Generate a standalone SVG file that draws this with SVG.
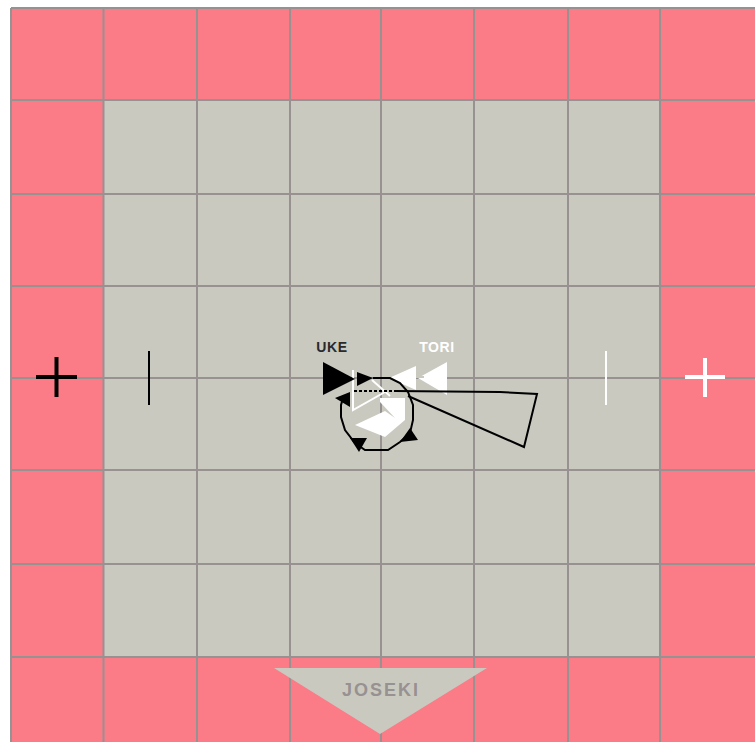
<svg xmlns="http://www.w3.org/2000/svg" width="755" height="742" viewBox="0 0 755 742">
<style>
.grid{stroke:#979191;stroke-width:2;fill:none}
.k{fill:#000;stroke:none}
.w{fill:#fff;stroke:none}
.lab{font-family:"Liberation Sans",Arial,sans-serif;font-weight:700;font-size:14px;text-anchor:middle;letter-spacing:.6px}
</style>
<rect width="755" height="742" fill="#fff"/>
<g id="mat">
<rect x="11" y="8" width="744" height="734" fill="#fb7b87"/>
<rect x="103.500" y="100" width="556.500" height="557" fill="#c9c9c0"/>
<path class="grid" d="M11 8V742M103.500 8V742M197 8V742M290 8V742M381 8V742M474 8V742M568 8V742M660 8V742M11 8H755M11 100H755M11 194H755M11 286H755M11 378H755M11 470H755M11 564H755M11 657H755"/>
</g>
<g id="joseki">
<polygon points="274,668 487,668 380,734" fill="#c9c9c0"/>
<text class="lab" x="381" y="696" fill="#979191" style="font-size:18px;letter-spacing:2px">JOSEKI</text>
</g>
<g id="uke-marks">
<path d="M36 377H77M56.500 357V397" stroke="#000" stroke-width="4" fill="none"/>
<path d="M149 351V405" stroke="#000" stroke-width="2" fill="none"/>
</g>
<g id="tori-marks">
<path d="M685 377H725M705 358V397" stroke="#fff" stroke-width="4" fill="none"/>
<path d="M606 351V405" stroke="#fff" stroke-width="2" fill="none"/>
</g>
<g id="tori">
<polygon class="w" points="447,362 447,395 418,378"/>
<polygon class="w" points="416,366 416,390 389,378"/>
<rect x="416" y="376" width="8" height="2" fill="#c9c9c0"/>
<polygon class="w" points="380,398 405,398 405,420 385,437 385,411 395,418 380,402"/>
<polygon class="w" points="385,411 385,437 355,425"/>
<path d="M353 370V410L385 392M372 380L390 396" stroke="#fff" stroke-width="2" fill="none"/>
<text class="lab" x="437" y="352" fill="#fff">TORI</text>
</g>
<g id="uke">
<polygon class="k" points="323,362 323,395 355,379"/>
<polygon class="k" points="357,372 357,386 373,378"/>
<polygon class="k" points="335,398 350,392 350,407"/>
<polygon class="k" points="350,438 367,438 359,452"/>
<polygon class="k" points="400,442 418,440 410,428"/>
<text class="lab" x="332" y="352" fill="#2a2a2a">UKE</text>
</g>
<g id="connectors" fill="none" stroke="#000" stroke-width="2">
<path d="M373 378H390L400 383L408 392L413 405V420L410 433L400 442L388 450H365L355 443L345 430L341 417V405L343 398"/>
<path d="M354 391H395" stroke-dasharray="3 2"/>
<path d="M395 391L500 392L537 394L524 447L408 396"/>
</g>
</svg>
